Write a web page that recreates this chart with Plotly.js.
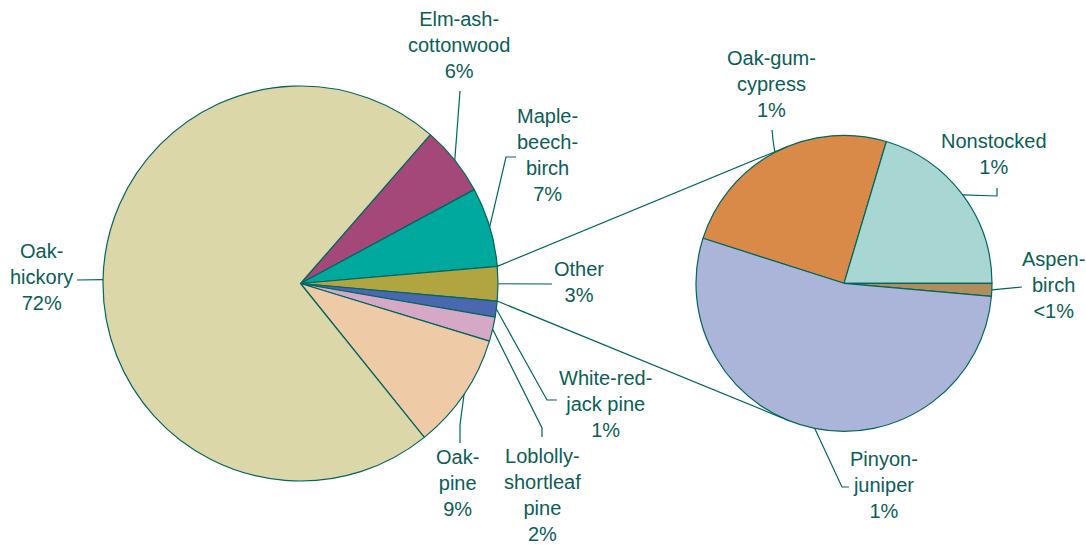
<!DOCTYPE html>
<html><head><meta charset="utf-8">
<script src="https://cdn.plot.ly/plotly-3.0.1.min.js"></script>
<style>html,body{margin:0;padding:0;background:#fff;}#chart{width:1086px;height:545px;}</style>
</head><body><div id="chart"></div>
<script>
const W = 1086, H = 545;

// Main pie: forest-type groups (share of area, %)
const mainLabels = ['Elm-ash-cottonwood','Maple-beech-birch','Other','White-red-jack pine','Loblolly-shortleaf pine','Oak-pine','Oak-hickory'];
const mainValues = [5.7, 6.5, 2.8, 1.3, 2.0, 9.5, 72.2];
const mainText = ['Elm-ash-<br>cottonwood<br>6%','Maple-<br>beech-<br>birch<br>7%','Other<br>3%','White-red-<br>jack pine<br>1%','Loblolly-<br>shortleaf<br>pine<br>2%','Oak-<br>pine<br>9%','Oak-<br>hickory<br>72%'];
const mainColors = ['#a4487a','#00a99d','#b1a542','#4a68af','#d5a9c6','#eecaa7','#dcd7a8'];

// Breakdown of "Other"
const otherLabels = ['Oak-gum-cypress','Nonstocked','Aspen-birch','Pinyon-juniper'];
const otherValues = [24.7, 20.4, 1.4, 53.5];
const otherText = ['Oak-gum-<br>cypress<br>1%','Nonstocked<br>1%','Aspen-<br>birch<br>&lt;1%','Pinyon-<br>juniper<br>1%'];
const otherColors = ['#d98a49','#a8d6d2','#b08f5c','#abb5d9'];

// Layout geometry (pixels)
const mainPie = {cx: 300.5, cy: 283.5, r: 197.5, rot: 41.1};
const otherPie = {cx: 844, cy: 283.3, r: 148, rot: -72.3};
const mainLabelPos = [[459,45],[547,155],[579,282],[605,404],[542,495],[457,483],[41,277]];
const mainLeader = [[[460,91]],[[506,157],[516,157]],[[552,284]],[[547,400],[557,400]],[[542,428],[542,437]],[[460,425],[460,443]],[[77,280]]];
const otherLabelPos = [[771,84],[994,154],[1053,285],[884,485]];
const otherLeader = [[[773,140],[772,130]],[[997,196],[997,188]],[[1022,287]],[[842,487],[849,487]]];

const TXT = '#0a5e56', LINE = '#00665e';
const FONT = 'Liberation Sans, Arial, sans-serif';

const px = x => x / W, py = y => 1 - y / H;
function domainOf(p){ return {x:[(p.cx-p.r)/W,(p.cx+p.r)/W], y:[1-(p.cy+p.r)/H, 1-(p.cy-p.r)/H]}; }
function angles(values, rot){
  const tot = values.reduce((a,b)=>a+b,0); let cum = 0;
  return values.map(v => { const a0 = rot + 360*cum/tot; cum += v; return [a0, rot + 360*cum/tot]; });
}
function edge(p, deg){ const a = deg*Math.PI/180; return [p.cx + p.r*Math.sin(a), p.cy - p.r*Math.cos(a)]; }

const shapes = [], annotations = [];
function addLabels(p, values, texts, pos, leaders, specialIdx){
  const ang = angles(values, p.rot);
  ang.forEach((a, i) => {
    const start = edge(p, (a[0]+a[1])/2);
    const pts = [start].concat(leaders[i]);
    const d = pts.map((q,k)=>(k?'L':'M')+px(q[0]).toFixed(5)+','+py(q[1]).toFixed(5)).join(' ');
    const spec = i === specialIdx;
    shapes.push({type:'path', xref:'paper', yref:'paper', path:d,
      line:{color: spec ? '#4f938b' : LINE, width: spec ? 1.6 : 1.2}});
    annotations.push({xref:'paper', yref:'paper', x:px(pos[i][0]), y:py(pos[i][1]),
      xanchor:'center', yanchor:'middle', showarrow:false, text:texts[i],
      font:{family:FONT, size:20, color:TXT}});
  });
  return ang;
}
const mainAng = addLabels(mainPie, mainValues, mainText, mainLabelPos, mainLeader, 2);
addLabels(otherPie, otherValues, otherText, otherLabelPos, otherLeader, -1);

// connector lines: "Other" slice boundaries tangent to the breakdown pie
const oi = mainLabels.indexOf('Other');
[[mainAng[oi][0], -1], [mainAng[oi][1], 1]].forEach(([deg, s]) => {
  const P = edge(mainPie, deg);
  const dx = otherPie.cx - P[0], dy = otherPie.cy - P[1];
  const d = Math.hypot(dx, dy), th = Math.atan2(dy, dx), al = Math.asin(otherPie.r/d);
  const L = Math.sqrt(d*d - otherPie.r*otherPie.r), t = th + s*al;
  const Q = [P[0] + L*Math.cos(t), P[1] + L*Math.sin(t)];
  shapes.push({type:'line', xref:'paper', yref:'paper', x0:px(P[0]), y0:py(P[1]), x1:px(Q[0]), y1:py(Q[1]),
    line:{color:LINE, width:1.2}});
});

const traces = [
  {type:'pie', labels:mainLabels, values:mainValues, sort:false, direction:'clockwise', rotation:mainPie.rot,
   textinfo:'none', hoverinfo:'label+percent', domain:domainOf(mainPie),
   marker:{colors:mainColors, line:{color:LINE, width:1.2}}},
  {type:'pie', labels:otherLabels, values:otherValues, sort:false, direction:'clockwise', rotation:otherPie.rot,
   textinfo:'none', hoverinfo:'label+percent', domain:domainOf(otherPie),
   marker:{colors:otherColors, line:{color:LINE, width:1.2}}}
];
const layout = {width:W, height:H, margin:{l:0,r:0,t:0,b:0,pad:0}, showlegend:false,
  paper_bgcolor:'#fff', plot_bgcolor:'#fff', font:{family:FONT}, shapes, annotations};
Plotly.newPlot('chart', traces, layout, {displayModeBar:false, staticPlot:true});
</script></body></html>
